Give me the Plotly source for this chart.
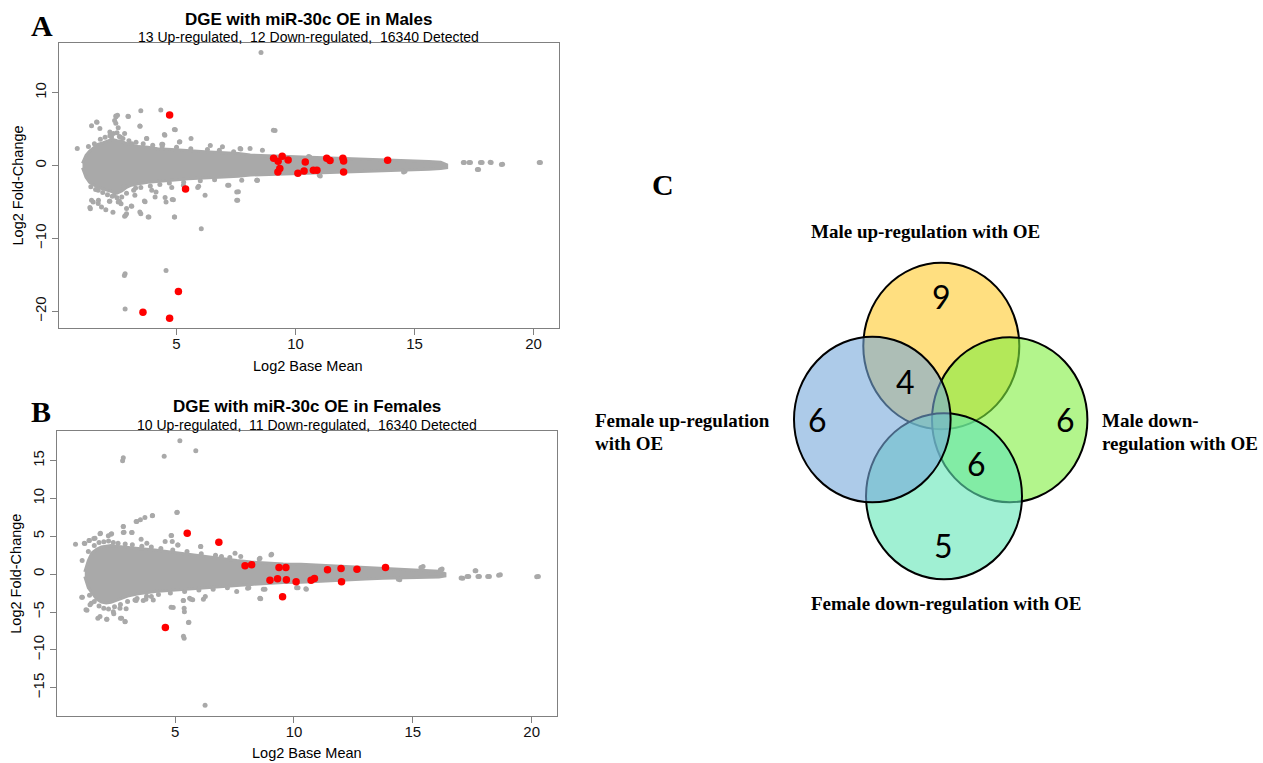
import plotly.graph_objects as go

W, H = 1263, 763

# ---------------- Panel A (Males) ----------------
a_band_x  = [1.05, 1.2, 1.35, 1.5, 1.7, 1.9, 2.1, 2.3, 2.5, 2.7, 2.9, 3.1, 3.4, 3.8, 4.2, 4.8, 5.5, 6.2, 7.0, 7.6,
             8.1, 9.0, 9.5, 10.2, 10.9, 11.6, 12.3, 13.0, 13.7, 14.4, 15.1, 15.6, 16.1, 16.35]
a_band_hi = [0.3, 1.4, 2.0, 2.4, 2.9, 3.1, 3.3, 3.6, 3.4, 3.3, 3.0, 2.8, 2.6, 2.5, 2.3, 2.2, 2.0, 1.9, 1.75, 1.65,
             1.45, 1.35, 1.3, 1.15, 1.05, 1.0, 0.95, 0.85, 0.78, 0.7, 0.6, 0.55, 0.45, 0.1]
a_band_lo = [-0.3, -1.6, -2.3, -2.6, -3.0, -3.2, -3.4, -3.6, -3.8, -3.5, -3.0, -2.7, -2.5, -2.3, -2.15, -2.0, -1.8,
             -1.65, -1.55, -1.45, -1.3, -1.2, -1.15, -1.1, -1.05, -0.95, -0.87, -0.8, -0.7, -0.62, -0.55, -0.5, -0.42, -0.3]

a_gray_x = [8.55, 0.83, 1.43, 1.66, 2.46, 2.52, 2.98, 3.50, 4.34, 3.47, 4.51, 4.95, 3.74, 4.42, 5.14, 5.61, 6.42, 6.93,
            7.70, 8.09, 9.14, 5.29, 5.93, 6.20, 7.20, 7.60, 7.57, 8.40, 6.04, 4.92, 4.56, 4.87, 3.84, 3.50, 3.68, 2.90,
            2.33, 2.03, 1.38, 1.50, 1.72, 2.18, 2.67, 3.10, 2.82, 4.14, 3.28, 2.80, 2.38, 17.69, 17.09, 17.35, 17.84,
            18.22, 18.70, 20.29, 14.60, 11.04, 10.60, 2.84, 2.81, 4.56, 2.84,
            1.64, 2.45, 2.96, 3.46, 2.82, 3.75, 4.49, 4.91, 4.38, 5.12, 3.12, 2.27, 1.78, 2.20, 7.67, 9.07,
            1.71, 1.43, 1.36, 1.71, 1.85, 2.20, 2.55, 2.90, 2.86, 3.12, 3.46, 3.65, 3.81, 4.10, 4.52, 4.82, 4.91,
            4.80, 5.89, 7.15, 7.53, 7.53, 7.74, 8.37, 3.96, 3.25, 8.61, 8.39, 10.55, 11.0, 14.54, 17.05, 17.29,
            17.77, 18.18, 18.65, 17.64, 20.24,
            1.3, 1.55, 1.8, 2.0, 2.2, 2.35, 2.5, 2.55, 2.6, 2.45, 2.4, 2.65, 2.75, 3.0, 3.3, 3.6, 4.0, 4.4, 5.0, 5.6,
            6.3, 6.8, 7.4, 1.4, 1.6, 1.9, 2.1, 2.3, 2.5, 2.6, 2.7, 2.9, 3.2, 3.5, 3.9, 4.3, 4.7, 5.3, 6.0, 6.6]
a_gray_y = [15.5, 2.34, 5.46, 5.96, 6.7, 6.9, 6.74, 7.52, 7.61, 5.41, 4.17, 4.9, 3.72, 2.94, 3.26, 3.72, 2.75, 2.57,
            2.29, 2.34, 4.82, -2.7, -2.84, -4.08, -2.7, -3.6, -4.77, -2.02, -8.67, -7.06, -5.0, -4.68, -7.06, -6.6,
            -4.95, -6.6, -6.42, -6.05, -5.92, -5.0, -4.77, -4.9, -5.23, -5.55, -6.97, -3.62, -3.07, -2.84, -4.08,
            -0.55, 0.41, 0.41, 0.41, 0.41, 0.18, 0.41, -0.78, -1.42, 1.19, -14.86, -15.1, -14.4, -19.68,
            5.98, 6.8, 6.76, 5.44, 4.39, 3.7, 4.25, 4.94, 2.92, 3.24, 3.0, 3.92, 5.07, 4.6, 2.33, 4.84,
            -3.39, -4.76, -5.77, -5.22, -5.68, -4.9, -4.99, -5.9, -6.82, -5.58, -6.36, -4.86, -7.05, -4.3, -4.39,
            -4.67, -7.05, -3.02, -3.02, -2.7, -3.62, -4.76, -2.02, -2.02, -3.39, -4.07, 2.1, -2.02, 1.23, -1.33,
            -0.87, 0.41, 0.41, 0.41, 0.44, 0.13, -0.55, 0.41,
            2.6, 3.0, 3.6, 3.9, 4.1, 4.4, 4.5, 5.2, 4.0, 5.8, 6.2, 3.9, 3.7, 3.4, 3.2, 3.0, 2.8, 2.6, 2.5, 2.3,
            2.2, 2.1, 1.9, -2.9, -3.3, -3.7, -4.0, -4.2, -4.4, -4.9, -4.3, -3.8, -3.4, -3.0, -2.8, -2.6, -2.4, -2.3,
            -2.1, -1.95]

a_red_x = [4.71, 5.38, 5.08, 3.59, 4.71, 9.08, 9.27, 9.44, 9.69, 9.26, 9.34, 10.10, 10.41, 10.36, 10.75, 10.90,
           11.31, 11.45, 11.99, 12.02, 12.02, 13.87]
a_red_y = [6.93, -3.21, -17.29, -20.14, -20.96, 1.01, 0.6, 1.28, 0.78, -0.87, -0.41, -1.06, 0.5, -0.73, -0.64, -0.64,
           1.01, 0.69, 1.01, 0.64, -0.87, 0.73]

# ---------------- Panel B (Females) ----------------
b_band_x  = [1.2, 1.35, 1.5, 1.7, 1.9, 2.1, 2.3, 2.5, 2.75, 3.0, 3.45, 4.15, 4.86, 5.4, 5.84, 6.4, 6.96, 7.6, 8.2,
             8.9, 9.55, 10.3, 11.0, 11.7, 12.36, 13.0, 13.76, 14.5, 15.16, 15.7, 16.1, 16.35]
b_band_hi = [0.3, 1.8, 2.8, 3.3, 3.6, 3.7, 3.8, 3.7, 3.6, 3.5, 3.4, 3.2, 2.9, 2.7, 2.5, 2.3, 2.1, 1.8, 1.6, 1.45,
             1.36, 1.3, 1.2, 1.1, 1.0, 0.9, 0.8, 0.7, 0.6, 0.5, 0.4, 0.1]
b_band_lo = [-0.3, -1.8, -2.5, -3.3, -3.7, -3.8, -3.7, -3.5, -3.2, -2.9, -2.6, -2.3, -2.1, -2.0, -1.85, -1.75, -1.65,
             -1.5, -1.35, -1.2, -1.1, -1.05, -1.0, -0.85, -0.75, -0.65, -0.55, -0.48, -0.42, -0.4, -0.38, -0.25]

b_gray_x = [5.20, 5.87, 2.82, 2.79, 4.54, 5.09, 4.05, 3.73, 3.39, 2.82, 2.85, 3.19, 0.81, 1.20, 1.38, 1.58, 1.86,
            2.30, 4.85, 4.88, 5.12, 6.07, 6.95, 7.76, 8.57, 9.06, 1.09, 15.43, 16.23, 17.10, 17.35, 17.65, 17.80,
            18.22, 18.68, 20.28, 14.45, 6.27, 5.61, 5.74, 5.34, 4.92, 5.38, 5.58, 5.38, 6.26, 8.10, 8.60, 10.52,
            10.17, 1.10, 1.29, 1.75, 2.13, 2.42, 2.70, 2.90, 2.94, 3.36, 3.77, 4.00, 1.47,
            1.18, 1.39, 1.63, 1.84, 2.19, 2.33, 2.82, 3.36, 3.54, 4.04, 5.07, 3.17, 2.82, 4.83, 5.11, 6.08, 3.57,
            3.81, 4.58, 7.52, 1.07, 1.25, 1.42, 1.84, 2.12, 2.40, 2.68, 2.89, 2.75, 3.31, 3.66, 4.08, 4.83, 5.35,
            5.67, 5.39, 5.56, 5.35, 6.19, 7.59, 8.05, 8.57, 8.78, 8.54, 9.03, 8.71, 8.57, 10.11, 10.5, 15.34,
            16.16, 17.03, 17.28, 17.62, 17.74, 18.15, 18.61, 20.21, 14.39,
            1.35, 1.6, 1.8, 2.0, 2.2, 2.4, 2.6, 2.9, 3.2, 3.6, 4.0, 4.4, 4.9, 5.5, 6.1, 6.7, 7.3,
            1.4, 1.6, 1.8, 2.0, 2.2, 2.45, 2.7, 3.0, 3.4, 3.8, 4.3, 4.8, 5.4, 6.0, 6.6, 7.2]
b_gray_y = [17.64, 16.32, 15.4, 15.0, 15.57, 8.18, 7.74, 7.48, 6.95, 6.29, 5.54, 5.5, 3.96, 4.05, 4.44, 4.71, 5.41,
            5.28, 5.1, 4.31, 3.87, 3.65, 2.33, 2.33, 2.11, 2.64, 1.8, 1.01, 0.7, -0.53, -0.31, 0.44, -0.31,
            -0.31, -0.09, -0.31, -0.75, -2.95, -3.17, -3.39, -3.48, -4.4, -4.49, -6.34, -8.45, -17.33, -1.8, -3.26,
            -1.98, -1.8, -3.04, -4.75, -5.81, -5.94, -5.24, -5.81, -6.25, -4.58, -3.48, -3.3, -2.95, -3.83,
            4.1, 4.45, 4.76, 5.33, 5.07, 5.33, 6.3, 6.96, 7.18, 7.71, 8.15, 5.51, 5.51, 5.1, 3.87, 3.65, 4.63,
            4.1, 4.32, 2.78, -3.04, -4.7, -4.04, -5.6, -5.96, -4.95, -4.5, -6.27, -5.83, -3.4, -3.49, -3.4, -4.37,
            -3.49, -3.31, -4.95, -6.4, -8.2, -3.31, -2.3, -1.86, -3.18, -1.99, 2.02, 2.55, -1.98, -3.22, -1.8,
            -1.93, 0.88, 0.57, -0.49, -0.31, 0.44, -0.31, -0.31, -0.13, -0.35, -0.67,
            3.0, 3.8, 4.2, 4.3, 4.4, 4.2, 4.1, 4.0, 3.9, 3.7, 3.6, 3.4, 3.2, 3.0, 2.7, 2.5, 2.2,
            -2.8, -3.6, -4.2, -4.5, -4.6, -4.3, -4.0, -3.6, -3.2, -2.9, -2.7, -2.5, -2.3, -2.1, -2.0, -1.8]

b_red_x = [5.51, 6.84, 4.59, 7.94, 8.22, 9.37, 9.66, 8.99, 9.31, 9.68, 9.52, 10.09, 10.72, 10.86, 11.41, 11.98,
           12.00, 12.65, 13.85]
b_red_y = [5.41, 4.22, -7.04, 1.1, 1.23, 0.88, 0.88, -0.79, -0.62, -0.75, -2.99, -1.01, -0.79, -0.57, 0.57, 0.75,
           -1.01, 0.66, 0.88]

titles = ["DGE with miR-30c OE in Males", "DGE with miR-30c OE in Females"]
subtitles = ["13 Up-regulated,\u00a0 12 Down-regulated,\u00a0 16340 Detected",
             "10 Up-regulated,\u00a0 11 Down-regulated,\u00a0 16340 Detected"]
a_xticks = [5, 10, 15, 20]
a_yticks = [-20, -10, 0, 10]
b_xticks = [5, 10, 15, 20]
b_yticks = [-15, -10, -5, 0, 5, 10, 15]

# ---------------- Panel C (Venn) ----------------
venn_sets = ["Male up-regulation with OE", "Female up-regulation with OE",
             "Male down-regulation with OE", "Female down-regulation with OE"]
venn_regions = ["Male up only", "Male up & Female up", "Female up only",
                "Male down only", "Male down & Female down", "Female down only"]
venn_counts = [9, 4, 6, 6, 6, 5]

GRAY = "#A9A9A9"
RED = "#FF0000"
AXC = "#808080"
SANS = "Liberation Sans, Arial, sans-serif"
SERIF = "Liberation Serif, Times New Roman, serif"

def fx(p):
    return p / W

def fy(p):
    return 1 - p / H

fig = go.Figure()

panels = [
    ("x", "y", a_band_x, a_band_hi, a_band_lo, a_gray_x, a_gray_y, a_red_x, a_red_y),
    ("x2", "y2", b_band_x, b_band_hi, b_band_lo, b_gray_x, b_gray_y, b_red_x, b_red_y),
]
for xa, ya, bx, bhi, blo, gx, gy, rx, ry in panels:
    fig.add_trace(go.Scatter(x=bx + bx[::-1], y=bhi + blo[::-1], fill="toself", fillcolor=GRAY,
                             mode="lines", line=dict(color=GRAY, width=3),
                             xaxis=xa, yaxis=ya, hoverinfo="skip", showlegend=False))
    fig.add_trace(go.Scatter(x=gx, y=gy, mode="markers", marker=dict(color=GRAY, size=5),
                             xaxis=xa, yaxis=ya, showlegend=False))
    fig.add_trace(go.Scatter(x=rx, y=ry, mode="markers", marker=dict(color=RED, size=7.5),
                             xaxis=xa, yaxis=ya, showlegend=False))

axis_common = dict(showline=True, mirror=True, linecolor=AXC, linewidth=1, ticks="outside",
                   ticklen=6, tickcolor=AXC, showgrid=False, zeroline=False,
                   tickfont=dict(family=SANS, size=15, color="#111111"))

fig.update_layout(
    width=W, height=H, autosize=False,
    margin=dict(l=0, r=0, t=0, b=0),
    paper_bgcolor="white", plot_bgcolor="white",
    xaxis=dict(domain=[fx(59), fx(559)], range=[0.063, 21.07], tickvals=a_xticks, anchor="y",
               ticklabelstandoff=-4, **axis_common),
    yaxis=dict(domain=[fy(328), fy(42.7)], range=[-22.29, 16.86], tickvals=a_yticks, tickangle=-90,
               anchor="x", **axis_common),
    xaxis2=dict(domain=[fx(57.3), fx(556.9)], range=[0.044, 21.06], tickvals=b_xticks, anchor="y2",
                ticklabelstandoff=-4, **axis_common),
    yaxis2=dict(domain=[fy(716), fy(430.7)], range=[-18.74, 18.96], tickvals=b_yticks, tickangle=-90,
                anchor="x2", **axis_common),
)

ann = []
def add_text(text, x, y, size, family, bold=False, xanchor="center", angle=0, color="#000000"):
    t = f"<b>{text}</b>" if bold else text
    ann.append(dict(text=t, x=fx(x), y=fy(y), xref="paper", yref="paper", showarrow=False,
                    xanchor=xanchor, yanchor="middle", textangle=angle,
                    font=dict(family=family, size=size, color=color)))

# Panel letters
add_text("A", 41.5, 25.5, 30, SERIF, bold=True)
add_text("B", 41, 411.7, 30, SERIF, bold=True)
add_text("C", 663, 185, 30, SERIF, bold=True)

# MA plot titles
for (tx, ty, sy), title, sub in zip([(308.7, 19.0, 37.0), (306.7, 406.8, 424.6)], titles, subtitles):
    add_text(title, tx, ty, 17, SANS, bold=True)
    add_text(sub, tx, sy, 14, SANS)

# Axis titles
add_text("Log2 Base Mean", 308.3, 366, 14.5, SANS)
add_text("Log2 Base Mean", 307.2, 753.3, 14.5, SANS)
add_text("Log2 Fold-Change", 18.2, 185.3, 14.5, SANS, angle=-90)
add_text("Log2 Fold-Change", 16.4, 573.3, 14.5, SANS, angle=-90)

# Venn ellipses (layout geometry in pixels: cx, cy, rx, ry) and colours
venn_geom = [(941.3, 346.0, 78.0, 83.3), (872.3, 419.5, 78.3, 82.8), (1009.7, 419.8, 77.7, 82.5), (944.0, 496.3, 78.0, 83.0)]
venn_fill = ["rgba(255,202,43,0.6)", "rgba(118,168,218,0.6)", "rgba(128,238,63,0.6)", "rgba(97,230,182,0.6)"]
draw_order = [0, 2, 3, 1]
shapes = []
for i in draw_order:
    cx, cy, rx, ry = venn_geom[i]
    shapes.append(dict(type="circle", xref="paper", yref="paper",
                       x0=fx(cx - rx), x1=fx(cx + rx), y0=fy(cy + ry), y1=fy(cy - ry),
                       fillcolor=venn_fill[i], line=dict(color="#000000", width=2), layer="above"))

# Venn region counts
count_pos = [(941.3, 296.7), (905.0, 381.7), (817.7, 419.3), (1065.0, 419.3), (976.7, 463.3), (943.3, 545.0)]
for (cx, cy), c in zip(count_pos, venn_counts):
    add_text(str(c), cx, cy, 32, "Lato, Open Sans, sans-serif")

# Venn set labels
add_text(venn_sets[0], 925.5, 231.7, 19, SERIF, bold=True)
add_text("Female up-regulation", 593, 420, 19, SERIF, bold=True, xanchor="left")
add_text("with OE", 593, 443, 19, SERIF, bold=True, xanchor="left")
add_text("Male down-", 1100, 420, 19, SERIF, bold=True, xanchor="left")
add_text("regulation with OE", 1100, 443, 19, SERIF, bold=True, xanchor="left")
add_text(venn_sets[3], 946, 603.3, 19, SERIF, bold=True)

fig.update_layout(annotations=ann, shapes=shapes)

fig.write_html("out.html", config={"displayModeBar": False},
               post_script="document.body.style.margin='0';document.body.style.overflow='hidden';")
